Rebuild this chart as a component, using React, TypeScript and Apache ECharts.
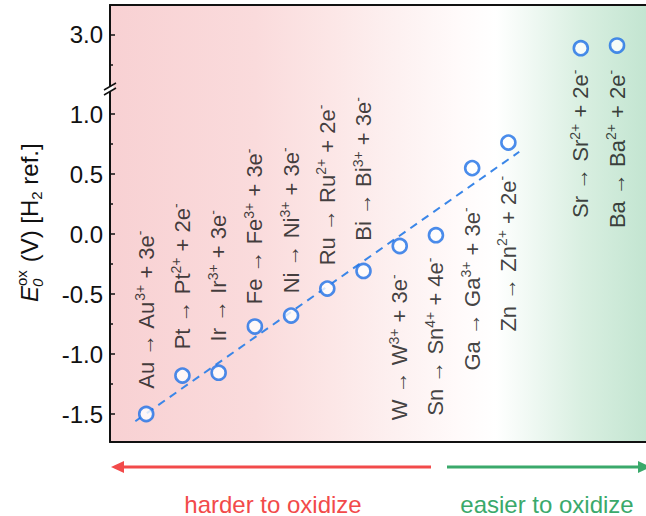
import React, { useEffect, useRef } from "react";
import * as echarts from "echarts";

// Oxidation half-reactions, ordered along the horizontal slots
const metals = ["Au", "Pt", "Ir", "Fe", "Ni", "Ru", "Bi", "W", "Sn", "Ga", "Zn", "Sr", "Ba"];
const ionCharges = ["3+", "2+", "3+", "3+", "3+", "2+", "3+", "3+", "4+", "3+", "2+", "2+", "2+"];
const electrons = ["3", "2", "3", "3", "3", "2", "3", "3", "4", "3", "2", "2", "2"];
const slots = [0, 1, 2, 3, 4, 5, 6, 7, 8, 9, 10, 12, 13];
// Standard oxidation potentials vs. H2 (V)
const potentials = [-1.5, -1.18, -1.156, -0.771, -0.68, -0.455, -0.308, -0.1, -0.01, 0.549, 0.762, 2.89, 2.912];

// Linear trend through the first eleven couples
const trendX = [-0.3, 10.3];
const trendY = [-1.56, 0.685];

// Axis ticks for the two segments of the broken y axis
const lowerTicks = [-1.5, -1.0, -0.5, 0.0, 0.5, 1.0];
const lowerMinorTicks = [-1.25, -0.75, -0.25, 0.25, 0.75];
const upperTicks = [3.0];
const upperMinorTicks = [2.75];

// Label placement for each couple: side of the marker and gap from it
const labelSides = ["top", "top", "top", "top", "top", "top", "top", "bottom", "bottom", "bottom", "bottom", "bottom", "bottom"];
const labelGaps = [17, 18, 23, 14, 14, 15, 22, 20, 14, 31, 25, 13, 16];

const FONT = 'Arial, "Liberation Sans", Helvetica, sans-serif';
const INK = "#111111";
const BLUE = "#1d6fe6";
const DASH_BLUE = "#3a86e8";
const RED = "#f24a4a";
const GREEN = "#3aa96b";

const LOWER_MIN = -1.7333;
const LOWER_MAX = 1.2167;
const UPPER_MIN = 2.5583;
const UPPER_MAX = 3.25;
const SLOT_MIN = -1;
const SLOT_MAX = 13.8;

function plotBackground() {
  return new echarts.graphic.LinearGradient(0, 0, 1, 0, [
    { offset: 0, color: "#f8d1d3" },
    { offset: 0.27, color: "#fadbdc" },
    { offset: 0.41, color: "#fce6e6" },
    { offset: 0.54, color: "#fdf1f1" },
    { offset: 0.65, color: "#fffafa" },
    { offset: 0.72, color: "#ffffff" },
    { offset: 0.78, color: "#f1f9f4" },
    { offset: 0.88, color: "#d9efe1" },
    { offset: 1, color: "#c3e5d1" },
  ]);
}

const labelRich = {
  m: { fontSize: 22, fontFamily: FONT, color: INK, lineHeight: 26 },
  s: { fontSize: 14, fontFamily: FONT, color: INK, lineHeight: 14, verticalAlign: "top" as const },
};

function buildPoints(upper: boolean) {
  const out: any[] = [];
  slots.forEach((slot, i) => {
    const isUpper = potentials[i] > LOWER_MAX;
    if (isUpper !== upper) return;
    const side = labelSides[i];
    out.push({
      value: [slot, potentials[i]],
      label: {
        show: true,
        position: side,
        distance: labelGaps[i],
        rotate: 90,
        align: side === "top" ? "left" : "right",
        verticalAlign: "middle",
        formatter: `{m|${metals[i]} \u2192 ${metals[i]}}{s|${ionCharges[i]}}{m| + ${electrons[i]}e}{s|-}`,
        rich: labelRich,
      },
    });
  });
  return out;
}

function valueAxis(gridIndex: number, min: number, max: number, major: number[], minor: number[]) {
  return [
    {
      type: "value",
      gridIndex,
      min,
      max,
      position: "left",
      axisLine: { show: true, onZero: false, lineStyle: { color: INK, width: 2 } },
      axisTick: {
        show: true,
        inside: true,
        length: 5,
        customValues: major,
        lineStyle: { color: INK, width: 1.5 },
      },
      axisLabel: {
        show: true,
        customValues: major,
        margin: 7,
        fontSize: 24,
        fontFamily: FONT,
        color: INK,
        formatter: (v: number) => v.toFixed(1),
      },
      splitLine: { show: false },
    },
    {
      type: "value",
      gridIndex,
      min,
      max,
      position: "left",
      axisLine: { show: false, onZero: false },
      axisTick: {
        show: true,
        inside: true,
        length: 3,
        customValues: minor,
        lineStyle: { color: INK, width: 1.5 },
      },
      axisLabel: { show: false },
      splitLine: { show: false },
    },
  ];
}

function slotAxis(gridIndex: number, position: "top" | "bottom") {
  return {
    type: "value",
    gridIndex,
    position,
    min: SLOT_MIN,
    max: SLOT_MAX,
    axisLine: { show: true, onZero: false, lineStyle: { color: INK, width: 2 } },
    axisTick: { show: false },
    axisLabel: { show: false },
    splitLine: { show: false },
  };
}

function buildOption() {
  const symbolStyle = {
    symbol: "circle",
    symbolSize: 14,
    itemStyle: { color: "#ffffff", borderColor: BLUE, borderWidth: 2.6 },
  };

  return {
    animation: false,
    grid: [
      { left: 110, right: 0, top: 88, bottom: 74, show: true, borderWidth: 0, backgroundColor: plotBackground() },
      { left: 110, right: 0, top: 5, height: 83, show: true, borderWidth: 0, backgroundColor: plotBackground() },
    ],
    xAxis: [slotAxis(0, "bottom"), slotAxis(1, "top")],
    yAxis: [
      ...valueAxis(0, LOWER_MIN, LOWER_MAX, lowerTicks, lowerMinorTicks),
      ...valueAxis(1, UPPER_MIN, UPPER_MAX, upperTicks, upperMinorTicks),
    ],
    series: [
      {
        type: "line",
        xAxisIndex: 0,
        yAxisIndex: 0,
        data: trendX.map((x, i) => [x, trendY[i]]),
        showSymbol: false,
        symbol: "none",
        lineStyle: { color: DASH_BLUE, width: 2, type: [8, 6] },
        z: 2,
        silent: true,
      },
      {
        type: "scatter",
        xAxisIndex: 0,
        yAxisIndex: 0,
        data: buildPoints(false),
        ...symbolStyle,
        z: 4,
      },
      {
        type: "scatter",
        xAxisIndex: 1,
        yAxisIndex: 2,
        data: buildPoints(true),
        ...symbolStyle,
        z: 4,
      },
    ],
    graphic: [
      // axis break marks
      {
        type: "polygon",
        z: 100,
        shape: { points: [[106.5, 88.5], [113.5, 84.5], [113.5, 89.5], [106.5, 93.5]] },
        style: { fill: "#ffffff" },
      },
      {
        type: "line",
        z: 101,
        shape: { x1: 104, y1: 90, x2: 116, y2: 83 },
        style: { stroke: INK, lineWidth: 1.5 },
      },
      {
        type: "line",
        z: 101,
        shape: { x1: 104, y1: 95, x2: 116, y2: 88 },
        style: { stroke: INK, lineWidth: 1.5 },
      },
      // y axis title: E_0^ox (V) [H2 ref.]
      {
        type: "group",
        x: 29,
        y: 302,
        rotation: Math.PI / 2,
        z: 100,
        children: [
          {
            type: "text",
            x: 0,
            y: 0,
            style: { text: "E", fontSize: 24, fontStyle: "italic", fontFamily: FONT, fill: INK, align: "left", verticalAlign: "middle" },
          },
          {
            type: "text",
            x: 16,
            y: -8,
            style: { text: "ox", fontSize: 15, fontFamily: FONT, fill: INK, align: "left", verticalAlign: "middle" },
          },
          {
            type: "text",
            x: 15,
            y: 8,
            style: { text: "0", fontSize: 15, fontStyle: "italic", fontFamily: FONT, fill: INK, align: "left", verticalAlign: "middle" },
          },
          {
            type: "text",
            x: 33,
            y: 0,
            style: {
              text: "{m| (V) [H}{b|2}{m| ref.]}",
              align: "left",
              verticalAlign: "middle",
              rich: {
                m: { fontSize: 24, fontFamily: FONT, fill: INK, color: INK, lineHeight: 30 },
                b: { fontSize: 15, fontFamily: FONT, fill: INK, color: INK, lineHeight: 15, verticalAlign: "bottom" },
              },
            },
          },
        ],
      },
      // direction arrows below the plot
      {
        type: "line",
        shape: { x1: 431, y1: 467, x2: 120, y2: 467 },
        style: { stroke: RED, lineWidth: 3 },
      },
      {
        type: "polygon",
        shape: { points: [[111, 467], [124, 461], [124, 473]] },
        style: { fill: RED },
      },
      {
        type: "line",
        shape: { x1: 447, y1: 467, x2: 640, y2: 467 },
        style: { stroke: GREEN, lineWidth: 3 },
      },
      {
        type: "polygon",
        shape: { points: [[651, 467], [638, 461], [638, 473]] },
        style: { fill: GREEN },
      },
      {
        type: "text",
        x: 273,
        y: 504,
        style: { text: "harder to oxidize", fontSize: 24, fontFamily: FONT, fill: RED, align: "center", verticalAlign: "middle" },
      },
      {
        type: "text",
        x: 547,
        y: 504,
        style: { text: "easier to oxidize", fontSize: 24, fontFamily: FONT, fill: GREEN, align: "center", verticalAlign: "middle" },
      },
    ],
  };
}

export default function App() {
  const ref = useRef<HTMLDivElement>(null);

  useEffect(() => {
    if (!ref.current) return;
    const chart = echarts.init(ref.current, null, { renderer: "svg" });
    chart.setOption(buildOption() as any);
    return () => chart.dispose();
  }, []);

  return (
    <div
      ref={ref}
      style={{ position: "fixed", left: 0, top: 0, width: 646, height: 516, background: "#ffffff" }}
    />
  );
}
